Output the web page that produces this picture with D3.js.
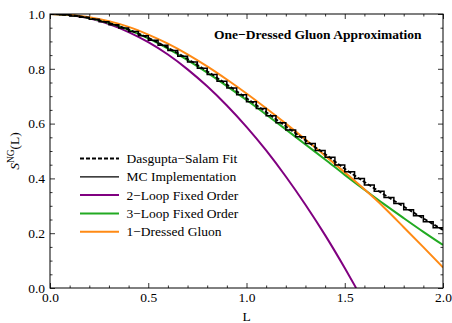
<!DOCTYPE html>
<html>
<head>
<meta charset="utf-8">
<script src="https://cdn.jsdelivr.net/npm/d3@7"></script>
<style>
  body { margin: 0; background: #fff; }
  text { font-family: "Liberation Serif", "Times New Roman", serif; fill: #000; }
</style>
</head>
<body>
<script>
// сетка по L для гладких кривых
const lGrid = [0, 0.1, 0.2, 0.3, 0.4, 0.5, 0.6, 0.7, 0.8, 0.9, 1.0,
               1.1, 1.2, 1.3, 1.4, 1.5, 1.6, 1.7, 1.8, 1.9, 2.0];

const fitVals = [1.000, 0.996, 0.985, 0.967, 0.943, 0.913, 0.877, 0.836, 0.791, 0.743, 0.693,
                 0.642, 0.590, 0.539, 0.489, 0.435, 0.387, 0.341, 0.297, 0.254, 0.212];
const greenVals = [1.000, 0.996, 0.985, 0.967, 0.942, 0.911, 0.874, 0.832, 0.786, 0.737, 0.686,
                   0.633, 0.579, 0.524, 0.469, 0.413, 0.359, 0.306, 0.255, 0.205, 0.157];
const orangeVals = [1.000, 0.997, 0.988, 0.974, 0.953, 0.925, 0.892, 0.853, 0.809, 0.761, 0.710,
                    0.656, 0.600, 0.542, 0.483, 0.422, 0.360, 0.294, 0.222, 0.149, 0.075];

// 2-loop кончается раньше (уходит в ноль)
const purpleL = [0, 0.1, 0.2, 0.3, 0.4, 0.5, 0.6, 0.7, 0.8, 0.9, 1.0,
                 1.1, 1.2, 1.3, 1.4, 1.5, 1.558];
const purpleVals = [1.000, 0.996, 0.984, 0.963, 0.934, 0.897, 0.852, 0.798, 0.736, 0.666, 0.588,
                    0.502, 0.407, 0.304, 0.193, 0.073, 0.000];

// гистограмма MC, бины по 0.05
const binWidth = 0.05;
const mcVals = [1.000, 0.997, 0.993, 0.988, 0.981, 0.972, 0.961, 0.949, 0.936, 0.921,
                0.904, 0.886, 0.867, 0.846, 0.825, 0.802, 0.779, 0.755, 0.730, 0.705,
                0.680, 0.655, 0.629, 0.603, 0.577, 0.552, 0.527, 0.502, 0.477, 0.449,
                0.424, 0.400, 0.376, 0.353, 0.330, 0.308, 0.286, 0.264, 0.242, 0.220];

const xMajor = [0, 0.5, 1.0, 1.5, 2.0];
const yMajor = [0, 0.2, 0.4, 0.6, 0.8, 1.0];

const legendLabels = ["Dasgupta\u2212Salam Fit", "MC Implementation", "2\u2212Loop Fixed Order",
                      "3\u2212Loop Fixed Order", "1\u2212Dressed Gluon"];
const title = "One\u2212Dressed Gluon Approximation";

const width = 452, height = 323;
const margin = {top: 14, right: 9, bottom: 35, left: 50};
const plotW = width - margin.left - margin.right;
const plotH = height - margin.top - margin.bottom;

const colPurple = "#800080", colGreen = "#22aa22", colOrange = "#ff8a14";

const svg = d3.select("body").append("svg")
    .attr("width", width)
    .attr("height", height);

const g = svg.append("g")
    .attr("transform", `translate(${margin.left},${margin.top})`);

const x = d3.scaleLinear().domain([0, 2]).range([0, plotW]);
const y = d3.scaleLinear().domain([0, 1]).range([plotH, 0]);

svg.append("defs").append("clipPath").attr("id", "clip")
  .append("rect").attr("width", plotW).attr("height", plotH);

// оси: крупные и мелкие тики внутрь, со всех четырёх сторон
const xMinor = d3.range(0, 2.0001, 0.1).filter(v => Math.abs(v * 2 - Math.round(v * 2)) > 1e-6);
const yMinor = d3.range(0, 1.0001, 0.05).filter(v => Math.abs(v * 5 - Math.round(v * 5)) > 1e-6);
const fmt = d3.format(".1f");

function addAxis(make, scale, tr, major, minor, labels) {
  const a = g.append("g").attr("transform", tr)
    .call(make(scale).tickValues(major).tickSize(-5).tickPadding(labels ? 4 : 0)
      .tickFormat(labels ? fmt : () => ""));
  g.append("g").attr("transform", tr)
    .call(make(scale).tickValues(minor).tickSize(-2.5).tickFormat(() => ""));
  return a;
}
const axB = addAxis(d3.axisBottom, x, `translate(0,${plotH})`, xMajor, xMinor, true);
addAxis(d3.axisTop, x, `translate(0,0)`, xMajor, xMinor, false);
const axL = addAxis(d3.axisLeft, y, `translate(0,0)`, yMajor, yMinor, true);
addAxis(d3.axisRight, y, `translate(${plotW},0)`, yMajor, yMinor, false);

g.selectAll(".domain").remove();
g.selectAll(".tick line").attr("stroke", "#000").attr("stroke-width", 0.8);
g.selectAll(".tick text").style("font-size", "13.5px")
  .style("font-family", '"Liberation Serif", serif');
axL.selectAll(".tick text").attr("x", -5);

// кривые
const line = d3.line().x(d => x(d[0])).y(d => y(d[1])).curve(d3.curveMonotoneX);
const curves = g.append("g").attr("clip-path", "url(#clip)");

curves.append("path").datum(purpleL.map((l, i) => [l, purpleVals[i]]))
  .attr("d", line).attr("fill", "none").attr("stroke", colPurple).attr("stroke-width", 2);
curves.append("path").datum(lGrid.map((l, i) => [l, greenVals[i]]))
  .attr("d", line).attr("fill", "none").attr("stroke", colGreen).attr("stroke-width", 2);
curves.append("path").datum(lGrid.map((l, i) => [l, orangeVals[i]]))
  .attr("d", line).attr("fill", "none").attr("stroke", colOrange).attr("stroke-width", 2);
curves.append("path").datum(lGrid.map((l, i) => [l, fitVals[i]]))
  .attr("d", line).attr("fill", "none").attr("stroke", "#000").attr("stroke-width", 1.8)
  .attr("stroke-dasharray", "4,2");

const histPts = mcVals.map((v, i) => [i * binWidth, v]);
histPts.push([mcVals.length * binWidth, mcVals[mcVals.length - 1]]);
curves.append("path").datum(histPts)
  .attr("d", d3.line().x(d => x(d[0])).y(d => y(d[1])).curve(d3.curveStepAfter))
  .attr("fill", "none").attr("stroke", "#000").attr("stroke-width", 1.5);

// рамка
g.append("rect").attr("width", plotW).attr("height", plotH)
  .attr("fill", "none").attr("stroke", "#000").attr("stroke-width", 1);

// заголовок
g.append("text").attr("x", 371.5).attr("y", 24.5).attr("text-anchor", "end")
  .style("font-size", "13.5px").style("font-weight", "bold").text(title);

// легенда
const legStyles = [
  {stroke: "#000", w: 1.8, dash: "4,2"},
  {stroke: "#000", w: 1.2, dash: null},
  {stroke: colPurple, w: 2, dash: null},
  {stroke: colGreen, w: 2, dash: null},
  {stroke: colOrange, w: 2, dash: null}
];
const leg = g.append("g").attr("transform", "translate(30,144.5)");
legendLabels.forEach((lab, i) => {
  const row = leg.append("g").attr("transform", `translate(0,${i * 18.3})`);
  row.append("line").attr("x1", 0).attr("x2", 39).attr("y1", 0).attr("y2", 0)
    .attr("stroke", legStyles[i].stroke).attr("stroke-width", legStyles[i].w)
    .attr("stroke-dasharray", legStyles[i].dash);
  row.append("text").attr("x", 46.5).attr("y", 4.5)
    .style("font-size", "13.5px").text(lab);
});

// подписи осей
svg.append("text").attr("x", margin.left + x(1)).attr("y", 321)
  .attr("text-anchor", "middle").style("font-size", "13.5px").text("L");

const yl = svg.append("text").attr("transform", `translate(19,${margin.top + plotH / 2}) rotate(-90)`)
  .attr("text-anchor", "middle").style("font-size", "13.5px");
yl.append("tspan").style("font-style", "italic").text("S");
yl.append("tspan").attr("dy", -5).style("font-size", "9.5px").text("NG");
yl.append("tspan").attr("dy", 5).text("(L)");
</script>
</body>
</html>
